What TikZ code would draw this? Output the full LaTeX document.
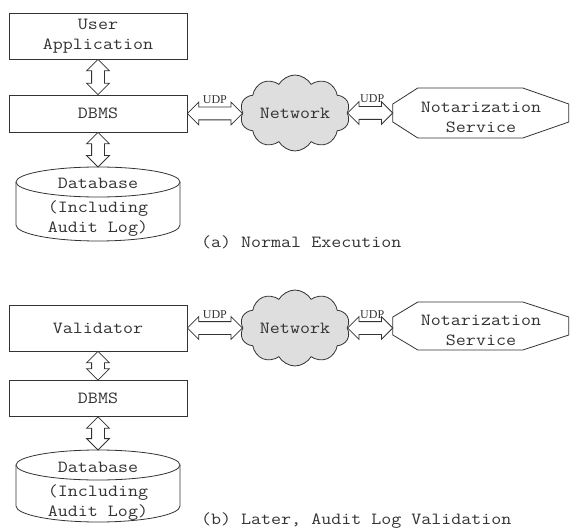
\documentclass[tikz,border=0pt]{standalone}
\usepackage{fontspec}
\setmonofont[FakeStretch=1.143]{Latin Modern Mono}
\newfontfamily\udpfont{Liberation Serif}
\usetikzlibrary{shapes.symbols,shapes.arrows,calc}

% hollow two-headed block arrow between two points
\newcommand\blockarrow[3]{%
  \path let \p1=(#1), \p2=(#2),
            \n1={veclen(\x2-\x1,\y2-\y1)},
            \n2={atan2(\y2-\y1,\x2-\x1)} in
    node[dblarrow, minimum height=\n1, rotate=\n2] (#3) at ($(\p1)!0.5!(\p2)$) {};}

\begin{document}
\begin{tikzpicture}[x=1pt,y=-1pt,
  every node/.style={font=\ttfamily\fontsize{17}{20}\selectfont, text=black!80},
  box/.style={draw=black!80, line width=0.8pt, minimum width=178pt, inner sep=0pt, align=center},
  netcloud/.style={cloud, cloud puffs=10, cloud puff arc=120, cloud ignores aspect,
    draw=black!80, fill=black!13, line width=0.8pt, minimum width=110pt, minimum height=76pt, inner sep=0pt},
  dblarrow/.style={double arrow, draw=black!80, fill=white, line width=0.8pt,
    inner xsep=0pt, inner ysep=6pt, outer sep=0pt, minimum width=0pt,
    double arrow head extend=5pt, double arrow tip angle=90},
  udplabel/.style={font=\udpfont\fontsize{12}{12}\selectfont, inner sep=0pt},
  outline/.style={draw=black!80, line width=0.8pt, fill=white},
  caption/.style={anchor=west, inner sep=0pt},
  plain/.style={inner sep=0pt, align=center}
]
\useasboundingbox (0,0) rectangle (570,532);

% ---------------- (a) normal execution ----------------
\node[box, minimum height=46pt] (ua) at (98,36) {User\\Application};
\node[box, minimum height=37pt] (dbmsA) at (98,113.5) {DBMS};
\node[netcloud] (netA) at (295,113) {Network};
\node[plain, minimum width=176pt, minimum height=50pt] (nsA) at (481,113) {};
\draw[outline] (nsA.west) ++(0,-9) -- ++(25,-16) -- ++(105,0) -- ++(46,16)
  -- ++(0,18) -- ++(-46,16) -- ++(-105,0) -- ++(-25,-16) -- cycle;
\node[plain] (nsAt) at (481,117) {Notarization\\Service};

% database cylinder
\draw[outline] (16,182) -- (16,225) arc[start angle=180, end angle=360, x radius=82pt, y radius=16pt] -- (180,182);
\draw[outline] (98,182) ellipse [x radius=82pt, y radius=15pt];
\coordinate (dbAtop) at (98,167);
\node[plain] (dbA) at (98,207) {Database\\[4pt](Including\\Audit Log)};

\blockarrow{ua.south}{dbmsA.north}{arA1}
\blockarrow{dbmsA.south}{dbAtop}{arA2}
\blockarrow{dbmsA.east}{dbmsA.east -| netA.west}{arA3}
\blockarrow{netA.east}{netA.east -| nsA.west}{arA4}
\node[udplabel, anchor=base] (udpA1) at ($(arA3.center)+(0,-10)$) {UDP};
\node[udplabel, anchor=base] (udpA2) at ($(arA4.center)+(2,-10)$) {UDP};

\node[caption] (capA) at (201,242) {(a) Normal Execution};

% ---------------- (b) later audit log validation ----------------
\node[box, minimum height=46pt] (val) at (98,328) {Validator};
\node[box, minimum height=36pt] (dbmsB) at (98,398.5) {DBMS};
\node[netcloud] (netB) at (295,328) {Network};
\node[plain, minimum width=176pt, minimum height=48pt] (nsB) at (481,326) {};
\draw[outline] (nsB.west) ++(0,-9) -- ++(25,-15) -- ++(105,0) -- ++(46,15)
  -- ++(0,18) -- ++(-46,15) -- ++(-105,0) -- ++(-25,-15) -- cycle;
\node[plain] (nsBt) at (481,330) {Notarization\\Service};

\draw[outline] (16,465) -- (16,506) arc[start angle=180, end angle=360, x radius=82pt, y radius=16pt] -- (180,465);
\draw[outline] (98,465) ellipse [x radius=82pt, y radius=15pt];
\coordinate (dbBtop) at (98,450);
\node[plain] (dbB) at (98,491) {Database\\[4pt](Including\\Audit Log)};

\blockarrow{val.south}{dbmsB.north}{arB1}
\blockarrow{dbmsB.south}{dbBtop}{arB2}
\blockarrow{val.east}{val.east -| netB.west}{arB3}
\blockarrow{netB.east}{netB.east -| nsB.west}{arB4}
\node[udplabel, anchor=base] (udpB1) at ($(arB3.center)+(0,-10)$) {UDP};
\node[udplabel, anchor=base] (udpB2) at ($(arB4.center)+(2,-10)$) {UDP};

\node[caption] (capB) at (201,521) {(b) Later, Audit Log Validation};
\end{tikzpicture}
\end{document}
